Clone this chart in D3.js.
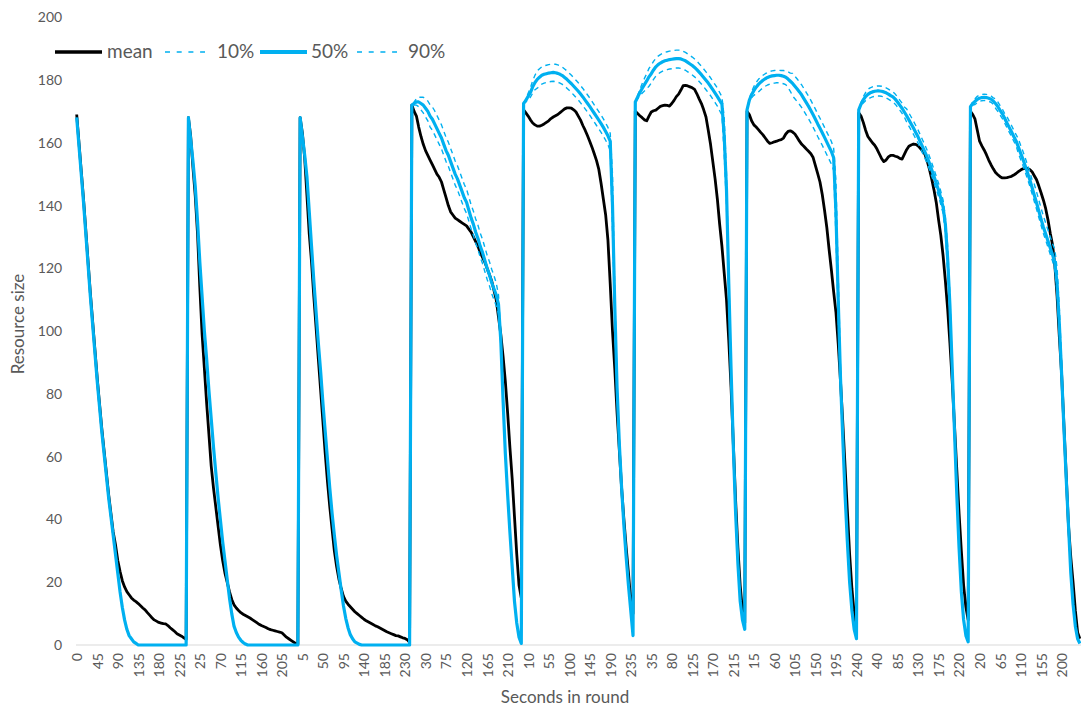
<!DOCTYPE html>
<html><head><meta charset="utf-8">
<script src="https://cdn.jsdelivr.net/npm/d3@7"></script>
<style>
html,body{margin:0;padding:0;background:#fff;}
svg{display:block;font-family:Lato,"Open Sans",sans-serif;}
</style></head>
<body><svg id="chart" width="1081" height="709"></svg>
<script>
// ---------- DATA ----------
const secondsInRound = [0,5,10,15,20,25,30,35,40,45,50,55,60,65,70,75,80,85,90,95,100,105,110,115,120,125,130,135,140,145,150,155,160,165,170,175,180,185,190,195,200,205,210,215,220,225,230,235,240];
const roundCount = 9;
const xTickLabels = ["0","45","90","135","180","225","25","70","115","160","205","5","50","95","140","185","230","30","75","120","165","210","10","55","100","145","190","235","35","80","125","170","215","15","60","105","150","195","240","40","85","130","175","220","20","65","110","155","200"];
const yTicks = [0,20,40,60,80,100,120,140,160,180,200];
const seriesNames = ["mean","10%","50%","90%"];

// mean per round
const meanR1 = [169,160,151,142,132,122,112,103,94,85,77,69,62,55,48,42,36,32,27,23.5,20.5,18.5,17,16,15,14.3,13.8,13.2,12.5,11.8,11.2,10.3,9.5,8.7,8,7.6,7.2,7,6.8,6.7,6.2,5.5,4.9,4.3,3.6,3.2,2.8,2.3,1.8];
const meanR2 = [168,162,152,143,131,114,99,88,77,67,57,50,44,38,32,27,23,20,17,14.5,12.8,11.8,11,10.3,9.8,9.4,9,8.6,8.1,7.6,7.1,6.6,6.2,5.9,5.6,5.2,4.9,4.7,4.5,4.3,4.1,3.9,3.2,2.5,2,1.5,1,0.5,0.3];
const meanR3 = [168,163,155,143,131,122,111,101,91,81,71,61,52,44,37,30,25,21,18,15.5,14,13,12.2,11.4,10.6,10,9.4,8.8,8.2,7.7,7.3,6.9,6.5,6.1,5.8,5.4,5,4.6,4.2,3.9,3.6,3.3,3,2.9,2.6,2.3,2.1,1.7,0.8];
const meanR4 = [172,170,168.5,165,162,159.5,157.5,156,154.5,153,151.5,150,149,147.5,145,142.5,140,138,137,136,135.5,135,134.5,134,133.5,132.5,131.5,130,128.5,127,125,123.5,122,120,118,116,113,110,104.5,99,92,84,74,63,53,41,29,19,15];
const meanR5 = [170.5,169.5,168.5,167.3,166.3,165.7,165.3,165.3,165.6,166,166.5,167,167.7,168.2,168.6,169,169.6,170.2,170.8,171.1,171.1,171,170.5,169.8,168.5,167.2,165.5,164,162.3,160.5,158.6,156.5,154.3,151.5,147,142,137,129,115,100,88,74,62,50,40,31,23,14,10];
const meanR6 = [170,169.3,168.6,168,167.3,167,168.5,169.8,170.2,170.4,171,171.6,171.8,172,171.9,171.7,172.5,173.5,174.7,175.5,176.8,178.2,178.3,178.1,177.8,177.5,177,175.6,174,172.5,170.5,168.2,164,159.5,154,148.5,142,134,127,118.5,110,97,82,64,46,31,19,11,7];
const meanR7 = [170,169,167,165.7,165,164.2,163.3,162.5,161.5,160.5,159.8,160,160.3,160.5,160.8,161,161.5,162.8,163.6,163.8,163.4,162.8,161.7,160.5,159.5,158.8,158,157.3,156.5,155.3,152.7,150.2,147.5,143.5,138.5,133,126,119.5,112.5,106,96,84,71,57,43,29,18,10,6];
const meanR8 = [169.5,168.5,166.5,164,162,161,160,159.2,158,156.5,155,154,154.5,155.5,156,156,155.7,155.5,155,154.8,156.3,157.8,158.9,159.3,159.6,159.5,159,158.2,157.3,156.4,154.2,151.6,148.5,145,141,135.5,130.5,124,116,107,96,84,70,56,42,30,19,12,8];
const meanR9 = [170,169,167.5,164,160.5,159,157.7,156.2,154.5,153,151.7,150.5,149.8,149.2,148.8,148.8,148.9,149.1,149.3,149.7,150.2,150.8,151.3,151.7,151.9,151.8,151.5,150.8,149.5,148.2,146.2,144,141.7,139,135.5,131.2,127.5,121,111,98,86,70,54,38,28,20,11,4,2];

// 50% per round
const p50R1 = [168,159,150,141,131,121,111,102,93,84,76,68,61,54,47,41,35,29,23,17,12,8,5,3,2,1,0.5,0,0,0,0,0,0,0,0,0,0,0,0,0,0,0,0,0,0,0,0,0,0];
const p50R2 = [168,161,154,146,135,122,111,100,91,81,72,63,55,47,40,33,27,21,15,10,6,4,2.5,1.5,0.8,0.3,0,0,0,0,0,0,0,0,0,0,0,0,0,0,0,0,0,0,0,0,0,0,0];
const p50R3 = [168,162,156,149,138,127,116,106,96,87,77,68,59,50,42,35,28.5,23,17.5,12.5,8.5,5.5,3.3,2,1,0.6,0.2,0,0,0,0,0,0,0,0,0,0,0,0,0,0,0,0,0,0,0,0,0,0];
const p50R4 = [172,172.5,173,173,172.5,172,171,170,168.5,167.5,166,164.5,163,161.5,159.5,157.5,156,154,152,150,148.5,146.5,144.5,142.5,141,138.5,136,134,131.5,129.5,127,125,122.5,120,118,115.5,113.5,111.5,108.5,97,78,61,48,36,25,14,7,2.5,0.5];
const p50R5 = [172.5,173.5,174.8,176,177.8,179.2,180.2,180.9,181.5,181.8,182,182.2,182.3,182.4,182.3,182.1,181.8,181.4,180.8,180.2,179.5,178.8,178,177.2,176.4,175.5,174.6,173.6,172.6,171.6,170.5,169.4,168.3,167.2,166.1,164.9,163.6,162.2,160.5,140,108,82,64,50,38,28,19,11,3];
const p50R6 = [173,174.5,176,177.3,178.5,179.7,181,182,183.2,184.2,184.9,185.4,185.8,186.1,186.3,186.5,186.6,186.7,186.8,186.8,186.7,186.4,186.1,185.6,185.1,184.6,184,183.3,182.5,181.7,180.8,179.9,179,178,176.9,175.8,174.7,173.5,172.3,162,145,115,88,63,42,26,14,8,5];
const p50R7 = [170.5,173.5,175.3,176.6,177.7,178.6,179.3,179.9,180.4,180.8,181.1,181.3,181.4,181.5,181.5,181.4,181.2,180.9,180.3,179.6,178.9,178,177.1,176.2,175.2,174,172.8,171.6,170.3,168.9,167.5,166,164.6,163.2,161.7,160.2,158.7,157.2,155.2,138,110,85,66,48,33,20,11,5,2];
const p50R8 = [170.5,172.3,173.7,174.7,175.4,175.9,176.2,176.4,176.5,176.5,176.4,176.2,175.9,175.5,175,174.6,173.9,173,172,171,169.8,168.6,167.3,166,164.7,163.3,161.9,160.3,158.7,157.1,155.4,153.5,151.4,149.3,147.1,144.9,142.3,139.5,134,123,108,88,68,48,31,17,8,3,1];
const p50R9 = [171.5,172.5,173.2,173.8,174.2,174.4,174.5,174.4,174.2,173.9,173.3,172.5,171.5,170.3,169.2,167.8,166.3,164.9,163.5,162,160.6,158.7,156.7,154.8,152.7,150.5,148.3,145.8,143.3,140.8,138.2,135.6,133.1,130.9,128.7,126.5,124.3,122,115,102,86,69,53,38,23,13,6,2,0.5];

// 10% per round (rounds 1-3 read as identical to 50%)
const p10R1 = p50R1, p10R2 = p50R2, p10R3 = p50R3;
const p10R4 = [172,172,172,171.5,170.5,169.5,168.2,167,165,164,162.5,161,159.5,158,156,154,152.5,150.5,148.5,146.5,145,143,141,139,137.5,135,132.5,130.5,128,126,123.5,121.5,119,116.5,114.5,112,110,108,105.5,95.5,77.5,61,48,36,25,14,7,2.5,0.5];
const p10R5 = [172.5,173,173.8,174.5,175.8,176.9,177.4,178.1,178.7,179,179.2,179.4,179.5,179.6,179.5,179.3,179,178.6,178,177.4,176.7,176,175.2,174.4,173.6,172.7,171.8,170.8,169.8,168.8,167.7,166.6,165.5,164.4,163.3,162.1,160.8,159.4,157.5,132,105,82,64,50,38,28,19,11,3];
const p10R6 = [173,174,175,175.8,176.5,177.2,178,179,180.2,181.2,181.9,182.4,182.8,183.1,183.3,183.5,183.6,183.7,183.8,183.8,183.7,183.4,183.1,182.6,182.1,181.6,181,180.3,179.5,178.7,177.8,176.9,176,175,173.9,172.8,171.7,170.2,168.8,156,140,112,88,63,42,26,14,8,5];
const p10R7 = [170.5,173,174.3,175.1,175.7,176.2,176.9,177.5,178,178.4,178.7,178.9,179,179.1,179.1,179,178.8,178.5,177.5,176.4,174.9,174,173.1,172.2,171.2,170,168.8,167.6,166.3,164.9,163.5,162,160.6,159.2,157.7,156.2,154.7,153.2,151.2,130,104,82,66,48,33,20,11,5,2];
const p10R8 = [170.5,171.8,172.7,173.4,173.8,174.3,174.6,174.8,174.9,174.9,174.8,174.6,174.3,173.9,173.4,173,172.3,171.4,170.4,169.4,168.2,166.6,165.3,164,162.7,161.3,159.9,158.3,156.7,155.1,153.4,151.5,149.4,147.3,145.1,142.9,140.3,137.5,131,119,105,87,68,48,31,17,8,3,1];
const p10R9 = [171.5,172,172.2,172.8,173.2,173.4,173.5,173.4,173.2,172.9,172.3,171,170,168.8,167.7,166.3,164.8,163.4,162,160.5,159.1,156.7,154.7,152.8,150.7,148.5,146.3,143.8,141.3,138.8,136.2,133.6,131.1,128.9,126.7,124.5,122.3,119.5,112,99,84,69,53,38,23,13,6,2,0.5];

// 90% per round (rounds 1-3 read as identical to 50%)
const p90R1 = p50R1, p90R2 = p50R2, p90R3 = p50R3;
const p90R4 = [172,173,174,174.5,174.5,174.5,174,173.3,172.1,171.4,170.2,168.7,167.2,165.7,163.7,161.7,160.2,158.2,156.2,154.2,152.7,150.7,148.7,146.7,145.2,142.7,140.2,138.2,135.7,133.7,131.2,129.2,126.7,124.2,122.2,119.7,117.7,115.3,111.5,99,79,61.5,48,36,25,14,7,2.5,0.5];
const p90R5 = [172.5,174,175.8,177.5,179.8,181.5,182.9,183.6,184.2,184.5,184.7,184.9,185,185.1,185,184.8,184.5,184.1,183.5,182.9,182.2,181.5,180.7,179.9,179.1,178.2,177.3,176.3,175.3,174.3,173.2,172.1,171,169.9,168.8,167.6,166.3,164.9,163,150,112,83,64,50,38,28,19,11,3];
const p90R6 = [173,175,177,178.8,180.5,182,183.7,184.7,185.9,186.9,187.6,188.1,188.5,188.8,189,189.2,189.3,189.4,189.5,189.5,189.4,189.1,188.8,188.3,187.8,187.3,186.7,186,185.2,184.4,183.5,182.6,181.7,180.7,179.6,178.5,177.4,176,174.6,168,150,118,88,63,42,26,14,8,5];
const p90R7 = [170.5,174,176.3,177.9,179.2,180.2,180.9,181.5,182,182.4,182.7,182.9,183,183.1,183.1,183,183,182.9,182.6,182.2,182.1,181.2,180.3,179.4,178.4,177.2,176,174.8,173.5,172.1,170.7,169.2,167.8,166.4,164.9,163.4,161.9,160.4,158.2,148,118,89,66,48,33,20,11,5,2];
const p90R8 = [170.5,172.8,174.7,176,177,177.5,177.8,178,178.1,178.1,178,177.8,177.5,177.1,176.6,176.2,175.5,174.6,173.6,172.6,171.4,170.8,169.5,168.2,166.9,165.5,164.1,162.5,160.9,159.3,157.6,155.7,153.6,151.5,149.3,147.1,144.5,141.7,136.5,127,111,89,68,48,31,17,8,3,1];
const p90R9 = [171.5,173,174,174.8,175.2,175.4,175.5,175.4,175.2,174.9,174.3,174,173,171.8,170.7,169.3,168.3,166.9,165.5,164,162.6,161.2,159.2,157.3,155.2,153,150.8,148.3,146.8,144.3,141.7,139.1,136.6,134.4,132.2,130,127.8,126,120,107,90,71,53,38,23,13,6,2,0.5];

// ---------- BUILD ----------
const meanRounds = [meanR1,meanR2,meanR3,meanR4,meanR5,meanR6,meanR7,meanR8,meanR9];
const p10Rounds = [p10R1,p10R2,p10R3,p10R4,p10R5,p10R6,p10R7,p10R8,p10R9];
const p50Rounds = [p50R1,p50R2,p50R3,p50R4,p50R5,p50R6,p50R7,p50R8,p50R9];
const p90Rounds = [p90R1,p90R2,p90R3,p90R4,p90R5,p90R6,p90R7,p90R8,p90R9];
[meanRounds,p10Rounds,p50Rounds,p90Rounds].forEach((g,gi)=>g.forEach((a,ri)=>{
  if(a.length!==secondsInRound.length) throw new Error("bad length series "+gi+" round "+(ri+1)+": "+a.length);
}));

const categories = [];
for(let r=0;r<roundCount;r++) secondsInRound.forEach(s=>categories.push(s));
const idx = d3.range(categories.length);

const series = [
  {name:seriesNames[0], values:[].concat(...meanRounds), color:"#000000", width:2.8, dash:null},
  {name:seriesNames[1], values:[].concat(...p10Rounds),  color:"#00B0F0", width:1.4, dash:"5,4"},
  {name:seriesNames[2], values:[].concat(...p50Rounds),  color:"#00B0F0", width:3.2, dash:null},
  {name:seriesNames[3], values:[].concat(...p90Rounds),  color:"#00B0F0", width:1.4, dash:"5,4"}
];

// ---------- DRAW ----------
const svg = d3.select("#chart");
const x = d3.scalePoint().domain(idx).range([76.7, 1079.9]);
const y = d3.scaleLinear().domain([0,200]).range([645, 17.2]);
const textColor = "#595959";

// y axis (labels only)
const yAxis = svg.append("g").attr("transform","translate(76.7,0)")
  .call(d3.axisLeft(y).tickValues(yTicks).tickSize(0).tickPadding(14.5));
yAxis.select(".domain").remove();
yAxis.selectAll("text").attr("fill",textColor).style("font-size","14px").style("font-family","Lato");

// x axis baseline
svg.append("line").attr("x1",76).attr("x2",1081).attr("y1",y(0)).attr("y2",y(0))
  .attr("stroke","#D9D9D9").attr("stroke-width",1.2);

// x axis labels
const xAxis = svg.append("g").attr("transform",`translate(0,${y(0)})`)
  .call(d3.axisBottom(x).tickValues(idx.filter(i=>i%9===0)).tickFormat(i=>xTickLabels[i/9]).tickSize(0));
xAxis.select(".domain").remove();
xAxis.selectAll("text")
  .attr("transform","rotate(-90)").attr("x",-8).attr("y",0).attr("dy","0.35em")
  .style("text-anchor","end").attr("fill",textColor).style("font-size","14px").style("font-family","Lato");

// lines
const line = d3.line().x((d,i)=>x(i)).y(d=>y(d));
series.forEach(s=>{
  svg.append("path").datum(s.values)
    .attr("fill","none").attr("stroke",s.color).attr("stroke-width",s.width)
    .attr("stroke-linejoin","round").attr("stroke-linecap","butt")
    .attr("stroke-dasharray",s.dash)
    .attr("d",line);
});

// axis titles
svg.append("text").attr("x",565).attr("y",703).attr("text-anchor","middle")
  .attr("fill",textColor).style("font-size","17px").text("Seconds in round");
svg.append("text").attr("transform","translate(24,324) rotate(-90)").attr("text-anchor","middle")
  .attr("fill",textColor).style("font-size","17px").text("Resource size");

// legend
const legendItems = [
  {s:series[0], x1:55, x2:102, tx:107},
  {s:series[1], x1:165, x2:205, tx:217},
  {s:series[2], x1:260, x2:307, tx:311},
  {s:series[3], x1:357, x2:397, tx:408}
];
const lg = svg.append("g");
legendItems.forEach(it=>{
  lg.append("line").attr("x1",it.x1).attr("x2",it.x2).attr("y1",52).attr("y2",52)
    .attr("stroke",it.s.color).attr("stroke-width",it.s.dash? 1.6 : (it.s.width+0.6))
    .attr("stroke-dasharray",it.s.dash? "5,6.7" : null);
  lg.append("text").attr("x",it.tx).attr("y",57.5).attr("fill",textColor)
    .style("font-size","19px").text(it.s.name);
});
</script>
</body></html>
